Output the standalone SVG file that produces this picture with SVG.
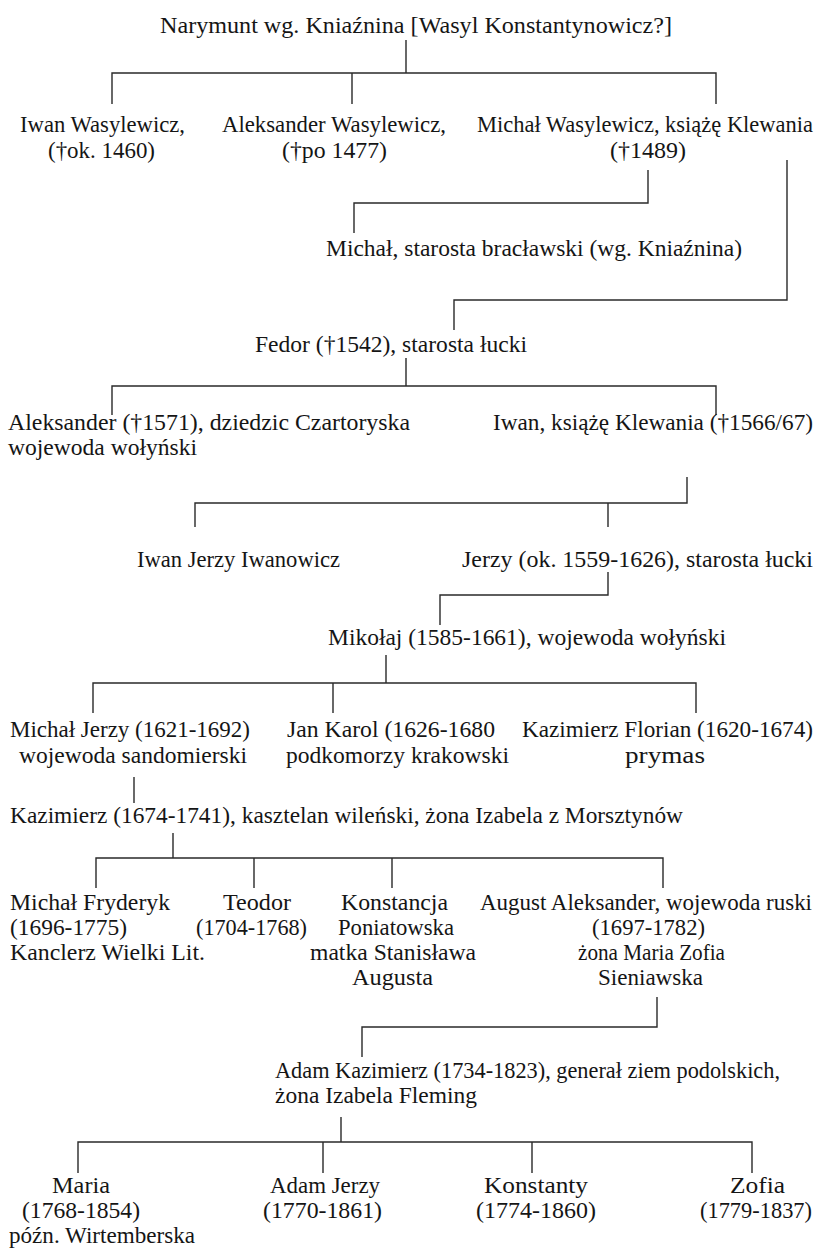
<svg xmlns="http://www.w3.org/2000/svg" width="822" height="1252" viewBox="0 0 822 1252">
<style>
text{font-family:"Liberation Serif","Times New Roman",serif;font-size:24px;fill:#151515}
.e{text-anchor:end}
.s{font-size:22.5px}
.c{stroke:#2a2a2a;stroke-width:1.4;fill:none}
</style>
<rect width="822" height="1252" fill="#fff"/>
<g id="connectors" class="c">
<path d="M406 40V73M112 104V73H716V104M352 73V104"/>
<path d="M648 170V203H354V233"/>
<path d="M787 160V300H454V330"/>
<path d="M406 358V386M112 415V386H716V415"/>
<path d="M687 477V503H195V527M608 503V527"/>
<path d="M608 572V595H440V625"/>
<path d="M386 655V683M93 713V683H696V713M333 683V713"/>
<path d="M134 777V803"/>
<path d="M173 833V858M96 888V858H663V888M254 858V888M392 858V888"/>
<path d="M657 997V1027H362V1057"/>
<path d="M341 1117V1142M78 1173V1142H752V1173M323 1142V1173M532 1142V1173"/>
</g>
<g id="n_narymunt"><text x="160" y="33" textLength="512" lengthAdjust="spacingAndGlyphs">Narymunt wg. Kniaźnina [Wasyl Konstantynowicz?]</text></g>
<g id="n_iwan_w"><text x="20" y="132" textLength="165" lengthAdjust="spacingAndGlyphs">Iwan Wasylewicz,</text><text x="48" y="158" textLength="107" lengthAdjust="spacingAndGlyphs">(†ok. 1460)</text></g>
<g id="n_aleksander_w"><text x="222" y="132" textLength="224" lengthAdjust="spacingAndGlyphs">Aleksander Wasylewicz,</text><text x="282" y="158" textLength="105" lengthAdjust="spacingAndGlyphs">(†po 1477)</text></g>
<g id="n_michal_w"><text class="e s" x="813" y="132" textLength="336" lengthAdjust="spacingAndGlyphs">Michał Wasylewicz, książę Klewania</text><text x="610" y="158" textLength="76" lengthAdjust="spacingAndGlyphs">(†1489)</text></g>
<g id="n_michal_starosta"><text x="326" y="256" textLength="416" lengthAdjust="spacingAndGlyphs">Michał, starosta bracławski (wg. Kniaźnina)</text></g>
<g id="n_fedor"><text x="255" y="352" textLength="272" lengthAdjust="spacingAndGlyphs">Fedor (†1542), starosta łucki</text></g>
<g id="n_aleksander"><text x="8" y="430" textLength="402" lengthAdjust="spacingAndGlyphs">Aleksander (†1571), dziedzic Czartoryska</text><text x="8" y="455" textLength="189" lengthAdjust="spacingAndGlyphs">wojewoda wołyński</text></g>
<g id="n_iwan_k"><text class="e" x="813" y="430" textLength="320" lengthAdjust="spacingAndGlyphs">Iwan, książę Klewania (†1566/67)</text></g>
<g id="n_iwan_jerzy"><text x="137" y="567" textLength="203" lengthAdjust="spacingAndGlyphs">Iwan Jerzy Iwanowicz</text></g>
<g id="n_jerzy"><text class="e" x="813" y="567" textLength="351" lengthAdjust="spacingAndGlyphs">Jerzy (ok. 1559-1626), starosta łucki</text></g>
<g id="n_mikolaj"><text x="328" y="645" textLength="398" lengthAdjust="spacingAndGlyphs">Mikołaj (1585-1661), wojewoda wołyński</text></g>
<g id="n_michal_jerzy"><text x="10" y="737" textLength="240" lengthAdjust="spacingAndGlyphs">Michał Jerzy (1621-1692)</text><text x="19" y="763" textLength="228" lengthAdjust="spacingAndGlyphs">wojewoda sandomierski</text></g>
<g id="n_jan_karol"><text x="287" y="737" textLength="208" lengthAdjust="spacingAndGlyphs">Jan Karol (1626-1680</text><text x="286" y="763" textLength="223" lengthAdjust="spacingAndGlyphs">podkomorzy krakowski</text></g>
<g id="n_kazimierz_florian"><text class="e" x="813" y="737" textLength="291" lengthAdjust="spacingAndGlyphs">Kazimierz Florian (1620-1674)</text><text x="625" y="763" textLength="80" lengthAdjust="spacingAndGlyphs">prymas</text></g>
<g id="n_kazimierz"><text x="10" y="823" textLength="673" lengthAdjust="spacingAndGlyphs">Kazimierz (1674-1741), kasztelan wileński, żona Izabela z Morsztynów</text></g>
<g id="n_michal_fryderyk"><text x="10" y="910" textLength="160" lengthAdjust="spacingAndGlyphs">Michał Fryderyk</text><text x="10" y="935" textLength="117" lengthAdjust="spacingAndGlyphs">(1696-1775)</text><text x="10" y="960" textLength="195" lengthAdjust="spacingAndGlyphs">Kanclerz Wielki Lit.</text></g>
<g id="n_teodor"><text x="223" y="910" textLength="68" lengthAdjust="spacingAndGlyphs">Teodor</text><text x="196" y="935" textLength="111" lengthAdjust="spacingAndGlyphs">(1704-1768)</text></g>
<g id="n_konstancja"><text x="341" y="910" textLength="107" lengthAdjust="spacingAndGlyphs">Konstancja</text><text x="338" y="935" textLength="116" lengthAdjust="spacingAndGlyphs">Poniatowska</text><text x="310" y="960" textLength="166" lengthAdjust="spacingAndGlyphs">matka Stanisława</text><text x="352" y="985" textLength="81" lengthAdjust="spacingAndGlyphs">Augusta</text></g>
<g id="n_august"><text class="e s" x="812" y="910" textLength="332" lengthAdjust="spacingAndGlyphs">August Aleksander, wojewoda ruski</text><text x="592" y="935" textLength="113" lengthAdjust="spacingAndGlyphs">(1697-1782)</text><text x="578" y="960" textLength="147" lengthAdjust="spacingAndGlyphs">żona Maria Zofia</text><text x="598" y="985" textLength="105" lengthAdjust="spacingAndGlyphs">Sieniawska</text></g>
<g id="n_adam_kazimierz"><text x="275" y="1078" textLength="505" lengthAdjust="spacingAndGlyphs">Adam Kazimierz (1734-1823), generał ziem podolskich,</text><text x="275" y="1103" textLength="202" lengthAdjust="spacingAndGlyphs">żona Izabela Fleming</text></g>
<g id="n_maria"><text x="52" y="1193" textLength="58" lengthAdjust="spacingAndGlyphs">Maria</text><text x="22" y="1218" textLength="118" lengthAdjust="spacingAndGlyphs">(1768-1854)</text><text x="9" y="1243" textLength="186" lengthAdjust="spacingAndGlyphs">późn. Wirtemberska</text></g>
<g id="n_adam_jerzy"><text x="270" y="1193" textLength="110" lengthAdjust="spacingAndGlyphs">Adam Jerzy</text><text x="263" y="1218" textLength="119" lengthAdjust="spacingAndGlyphs">(1770-1861)</text></g>
<g id="n_konstanty"><text x="484" y="1193" textLength="104" lengthAdjust="spacingAndGlyphs">Konstanty</text><text x="476" y="1218" textLength="120" lengthAdjust="spacingAndGlyphs">(1774-1860)</text></g>
<g id="n_zofia"><text x="730" y="1193" textLength="55" lengthAdjust="spacingAndGlyphs">Zofia</text><text class="e" x="812" y="1218" textLength="112" lengthAdjust="spacingAndGlyphs">(1779-1837)</text></g>
</svg>
